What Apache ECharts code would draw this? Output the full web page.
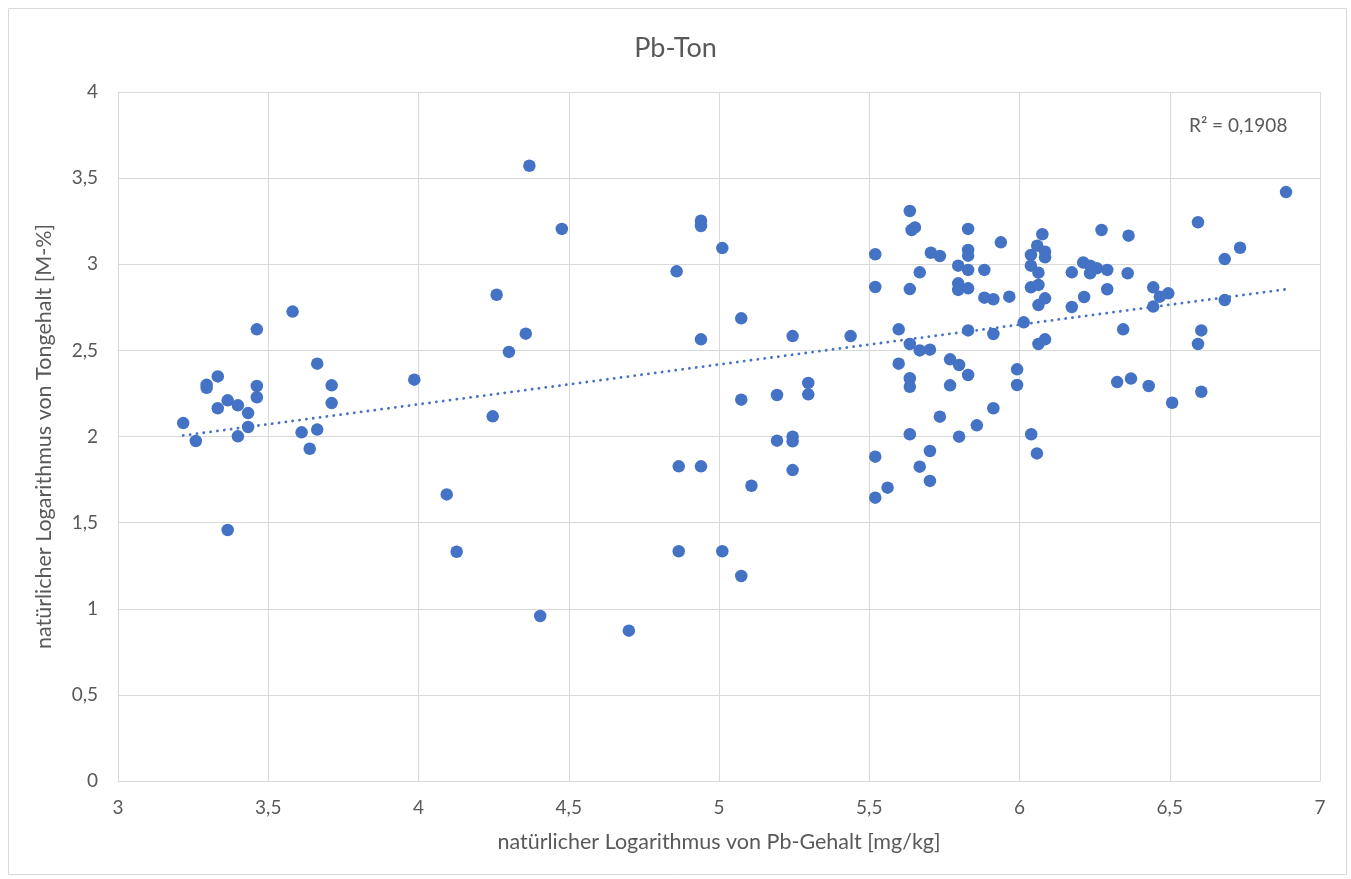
<!DOCTYPE html>
<html>
<head>
<meta charset="utf-8">
<title>Pb-Ton</title>
<script src="https://cdn.jsdelivr.net/npm/echarts@6/dist/echarts.min.js"></script>
<style>
  html, body { margin: 0; padding: 0; background: #ffffff; }
  #chart { width: 1351px; height: 879px; }
</style>
</head>
<body>
<div id="chart"></div>
<script>
// ln of Pb content [mg/kg] per sample
const lnPb = [
  3.217, 3.259, 3.295, 3.295, 3.332, 3.332, 3.365, 3.365, 3.399, 3.399, 3.433,
  3.433, 3.462, 3.462, 3.462, 3.581, 3.611, 3.638, 3.663, 3.663, 3.711, 3.711,
  3.986, 4.094, 4.127, 4.247, 4.260, 4.301, 4.357, 4.369, 4.405, 4.477, 4.700,
  4.859, 4.866, 4.866, 4.940, 4.940, 4.940, 4.940, 5.011, 5.011, 5.074, 5.074,
  5.074, 5.108, 5.193, 5.193, 5.245, 5.245, 5.245, 5.245, 5.297, 5.297, 5.438,
  5.520, 5.520, 5.520, 5.520, 5.561, 5.598, 5.598, 5.635, 5.635, 5.635, 5.635,
  5.635, 5.635, 5.641, 5.652, 5.668, 5.668, 5.668, 5.702, 5.702, 5.702, 5.705,
  5.735, 5.735, 5.769, 5.769, 5.796, 5.796, 5.796, 5.799, 5.799, 5.829, 5.829,
  5.829, 5.829, 5.829, 5.829, 5.829, 5.858, 5.883, 5.883, 5.913, 5.913, 5.913,
  5.938, 5.966, 5.992, 5.992, 6.014, 6.038, 6.038, 6.038, 6.039, 6.058, 6.059,
  6.063, 6.063, 6.063, 6.063, 6.076, 6.085, 6.085, 6.085, 6.085, 6.174, 6.174,
  6.212, 6.215, 6.235, 6.235, 6.257, 6.273, 6.292, 6.292, 6.325, 6.345, 6.360,
  6.363, 6.371, 6.430, 6.445, 6.445, 6.467, 6.495, 6.508, 6.594, 6.594, 6.605,
  6.605, 6.683, 6.683, 6.734, 6.887
];

// ln of clay content [M-%] for the same samples
const lnTon = [
  2.078, 1.974, 2.300, 2.283, 2.349, 2.164, 2.210, 1.457, 2.181, 2.001, 2.136,
  2.055, 2.622, 2.293, 2.228, 2.725, 2.024, 1.929, 2.423, 2.040, 2.297, 2.194,
  2.330, 1.664, 1.331, 2.117, 2.823, 2.491, 2.597, 3.572, 0.958, 3.205, 0.873,
  2.959, 1.827, 1.334, 3.253, 3.222, 2.564, 1.827, 3.094, 1.334, 2.686, 2.214,
  1.190, 1.714, 2.241, 1.976, 2.583, 1.999, 1.972, 1.805, 2.311, 2.245, 2.583,
  3.058, 2.868, 1.883, 1.645, 1.703, 2.622, 2.423, 3.309, 2.856, 2.537, 2.338,
  2.289, 2.013, 3.199, 3.214, 2.953, 2.500, 1.825, 2.504, 1.916, 1.742, 3.067,
  3.048, 2.115, 2.448, 2.297, 2.992, 2.889, 2.851, 2.415, 1.999, 3.205, 3.083,
  3.050, 2.967, 2.860, 2.616, 2.357, 2.065, 2.967, 2.806, 2.797, 2.595, 2.164,
  3.127, 2.812, 2.390, 2.299, 2.663, 3.054, 2.992, 2.866, 2.013, 1.902, 3.108,
  2.951, 2.880, 2.763, 2.537, 3.174, 3.073, 3.040, 2.802, 2.564, 2.953, 2.752,
  3.010, 2.810, 2.992, 2.948, 2.977, 3.199, 2.967, 2.855, 2.316, 2.622, 2.948,
  3.166, 2.336, 2.293, 2.866, 2.754, 2.812, 2.831, 2.196, 3.244, 2.537, 2.616,
  2.260, 3.030, 2.792, 3.096, 3.419
];

const titleText = 'Pb-Ton';
const xName = 'natürlicher Logarithmus von Pb-Gehalt [mg/kg]';
const yName = 'natürlicher Logarithmus von Tongehalt [M-%]';
const r2Text = 'R² = 0,1908';

const FONT = 'Lato, "Open Sans", sans-serif';
const TEXT = '#595959';
const GRID = '#d9d9d9';
const BLUE = '#4472c4';

// linear least-squares trend through the samples
function linearFit(xs, ys) {
  const n = xs.length;
  let sx = 0, sy = 0, sxx = 0, sxy = 0;
  for (let i = 0; i < n; i++) {
    sx += xs[i]; sy += ys[i];
    sxx += xs[i] * xs[i]; sxy += xs[i] * ys[i];
  }
  const slope = (n * sxy - sx * sy) / (n * sxx - sx * sx);
  const intercept = (sy - slope * sx) / n;
  return { slope, intercept };
}

const fit = linearFit(lnPb, lnTon);
const xMin = Math.min(...lnPb);
const xMax = Math.max(...lnPb);
const trend = [
  [xMin, fit.intercept + fit.slope * xMin],
  [xMax, fit.intercept + fit.slope * xMax]
];

const points = lnPb.map((x, i) => [x, lnTon[i]]);
const comma = v => String(v).replace('.', ',');

const chart = echarts.init(document.getElementById('chart'), null, { renderer: 'canvas' });

chart.setOption({
  backgroundColor: '#ffffff',
  animation: false,
  title: {
    text: titleText,
    left: 'center',
    top: 30,
    textStyle: { fontFamily: FONT, fontSize: 27, fontWeight: 'normal', color: TEXT }
  },
  graphic: [
    {
      type: 'rect',
      left: 6, top: 6,
      shape: { width: 1338, height: 866 },
      style: { fill: 'none', stroke: GRID, lineWidth: 1 },
      silent: true
    },
    {
      type: 'text',
      left: 1189, top: 116,
      style: { text: r2Text, fontFamily: FONT, fontSize: 19, fill: TEXT }
    }
  ],
  grid: { left: 118, right: 31, top: 92, bottom: 98, containLabel: false },
  xAxis: {
    type: 'value',
    min: 3, max: 7, interval: 0.5,
    name: xName,
    nameLocation: 'middle',
    nameGap: 50,
    nameTextStyle: { fontFamily: FONT, fontSize: 21.5, color: TEXT },
    axisLine: { show: true, lineStyle: { color: GRID, width: 1 } },
    axisTick: { show: false },
    axisLabel: { margin: 17, fontFamily: FONT, fontSize: 19, color: TEXT, formatter: comma },
    splitLine: { show: true, lineStyle: { color: GRID, width: 1 } }
  },
  yAxis: {
    type: 'value',
    min: 0, max: 4, interval: 0.5,
    name: yName,
    nameLocation: 'middle',
    nameGap: 63,
    nameTextStyle: { fontFamily: FONT, fontSize: 21.5, color: TEXT },
    axisLine: { show: true, lineStyle: { color: GRID, width: 1 } },
    axisTick: { show: false },
    axisLabel: { margin: 20, fontFamily: FONT, fontSize: 19, color: TEXT, formatter: comma },
    splitLine: { show: true, lineStyle: { color: GRID, width: 1 } }
  },
  series: [
    {
      type: 'scatter',
      data: points,
      symbol: 'circle',
      symbolSize: 12.5,
      itemStyle: { color: BLUE, opacity: 1 },
      z: 3
    },
    {
      type: 'line',
      data: trend,
      symbol: 'none',
      silent: true,
      lineStyle: { color: BLUE, width: 2.8, type: [0.1, 6.8], cap: 'round' },
      z: 4
    }
  ]
});
</script>
</body>
</html>
